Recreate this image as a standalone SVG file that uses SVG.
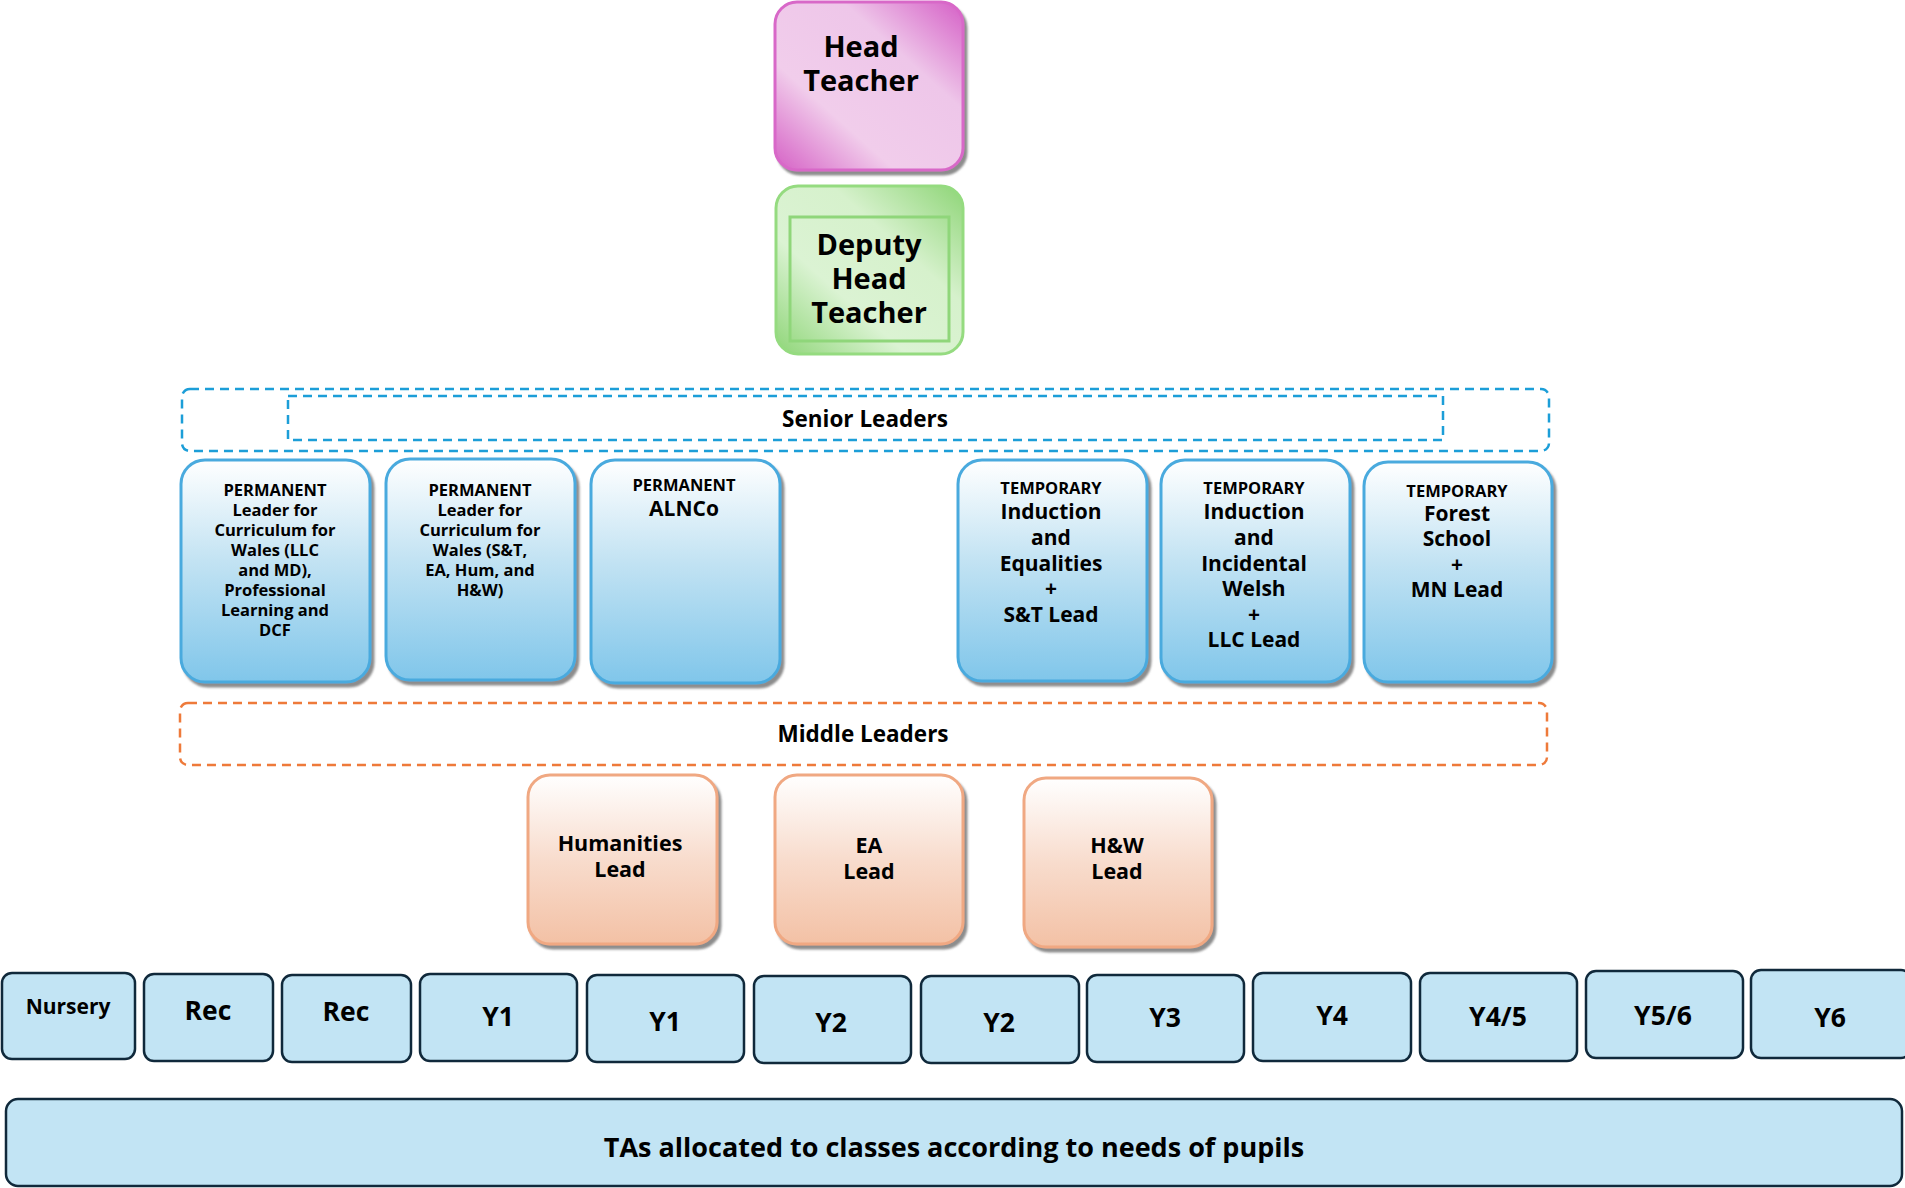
<svg xmlns="http://www.w3.org/2000/svg" width="1905" height="1188" viewBox="0 0 1905 1188">
  <defs>
    <linearGradient id="gHead" x1="1" y1="0" x2="0" y2="1">
      <stop offset="0" stop-color="#d55fc6"/>
      <stop offset="0.32" stop-color="#eec6e9"/>
      <stop offset="0.68" stop-color="#f1cdeb"/>
      <stop offset="1" stop-color="#d560c5"/>
    </linearGradient>
    <linearGradient id="gDeputy" x1="1" y1="0" x2="0" y2="1">
      <stop offset="0" stop-color="#8ed577"/>
      <stop offset="0.35" stop-color="#d6f1cc"/>
      <stop offset="0.65" stop-color="#dbf3d3"/>
      <stop offset="1" stop-color="#8ed577"/>
    </linearGradient>
    <linearGradient id="gSenior" x1="0" y1="0" x2="0" y2="1">
      <stop offset="0" stop-color="#ffffff"/>
      <stop offset="0.45" stop-color="#c3e3f3"/>
      <stop offset="1" stop-color="#80c6ea"/>
    </linearGradient>
    <linearGradient id="gMiddle" x1="0" y1="0" x2="0" y2="1">
      <stop offset="0" stop-color="#ffffff"/>
      <stop offset="0.5" stop-color="#f8dccd"/>
      <stop offset="1" stop-color="#f3c1a5"/>
    </linearGradient>
    <filter id="shadow" x="-10%" y="-10%" width="125%" height="125%">
      <feDropShadow dx="3" dy="4" stdDeviation="1.2" flood-color="#6f6f6f" flood-opacity="0.8"/>
    </filter>
  </defs>
  <style>
    text { font-family: "Open Sans", "Liberation Sans", sans-serif; font-weight: bold; fill: #000; text-anchor: middle; }
    .top { font-size: 29px; }
    .senior { fill: url(#gSenior); stroke: #4aaade; stroke-width: 3; filter: url(#shadow); }
    .middle { fill: url(#gMiddle); stroke: #f0a882; stroke-width: 3; filter: url(#shadow); }
    .cls { fill: #c2e4f4; stroke: #10293b; stroke-width: 2.5; }
    .sm { font-size: 16.5px; }
    .md { font-size: 21px; }
    .band { font-size: 22.5px; }
    .lbl { font-size: 21.5px; }
    .yr { font-size: 26.5px; }
    .dashB { fill: none; stroke: #1c9ed8; stroke-width: 2.5; stroke-dasharray: 9 6; }
    .dashO { fill: none; stroke: #ee7a3a; stroke-width: 2.5; stroke-dasharray: 9 6; }
  </style>

  <!-- top leadership -->
  <g id="head-teacher">
    <rect x="775" y="2" width="188" height="168" rx="22" fill="url(#gHead)" stroke="#d868c8" stroke-width="3" filter="url(#shadow)"/>
    <text class="top" x="861" y="57">Head</text>
    <text class="top" x="861" y="91">Teacher</text>
  </g>
  <g id="deputy-head-teacher">
    <rect x="776" y="186" width="187" height="168" rx="22" fill="url(#gDeputy)" stroke="#95db80" stroke-width="3"/>
    <rect x="790" y="217" width="159" height="124" fill="none" stroke="#8fd67a" stroke-width="3"/>
    <text class="top" x="869" y="255">Deputy</text>
    <text class="top" x="869" y="289">Head</text>
    <text class="top" x="869" y="323">Teacher</text>
  </g>

  <!-- senior leaders band -->
  <g id="senior-leaders">
    <rect class="dashB" x="182" y="389" width="1367" height="62" rx="8"/>
    <rect class="dashB" x="288" y="396" width="1155" height="44"/>
    <text class="band" x="865" y="427">Senior Leaders</text>
  </g>

  <g id="senior-1">
    <rect class="senior" x="181" y="460" width="189" height="222" rx="24"/>
    <text class="sm" x="275" y="496">PERMANENT</text>
    <text class="sm" x="275" y="516">Leader for</text>
    <text class="sm" x="275" y="536">Curriculum for</text>
    <text class="sm" x="275" y="556">Wales (LLC</text>
    <text class="sm" x="275" y="576">and MD),</text>
    <text class="sm" x="275" y="596">Professional</text>
    <text class="sm" x="275" y="616">Learning and</text>
    <text class="sm" x="275" y="636">DCF</text>
  </g>
  <g id="senior-2">
    <rect class="senior" x="386" y="459" width="189" height="221" rx="24"/>
    <text class="sm" x="480" y="496">PERMANENT</text>
    <text class="sm" x="480" y="516">Leader for</text>
    <text class="sm" x="480" y="536">Curriculum for</text>
    <text class="sm" x="480" y="556">Wales (S&amp;T,</text>
    <text class="sm" x="480" y="576">EA, Hum, and</text>
    <text class="sm" x="480" y="596">H&amp;W)</text>
  </g>
  <g id="senior-3">
    <rect class="senior" x="591" y="460" width="189" height="223" rx="24"/>
    <text class="sm" x="684" y="491">PERMANENT</text>
    <text class="md" x="684" y="516">ALNCo</text>
  </g>
  <g id="senior-4">
    <rect class="senior" x="958" y="460" width="189" height="221" rx="24"/>
    <text class="sm" x="1051" y="494">TEMPORARY</text>
    <text class="md" x="1051" y="519">Induction</text>
    <text class="md" x="1051" y="545">and</text>
    <text class="md" x="1051" y="571">Equalities</text>
    <text class="md" x="1051" y="596">+</text>
    <text class="md" x="1051" y="622">S&amp;T Lead</text>
  </g>
  <g id="senior-5">
    <rect class="senior" x="1161" y="460" width="189" height="222" rx="24"/>
    <text class="sm" x="1254" y="494">TEMPORARY</text>
    <text class="md" x="1254" y="519">Induction</text>
    <text class="md" x="1254" y="545">and</text>
    <text class="md" x="1254" y="571">Incidental</text>
    <text class="md" x="1254" y="596">Welsh</text>
    <text class="md" x="1254" y="622">+</text>
    <text class="md" x="1254" y="647">LLC Lead</text>
  </g>
  <g id="senior-6">
    <rect class="senior" x="1364" y="462" width="188" height="220" rx="24"/>
    <text class="sm" x="1457" y="497">TEMPORARY</text>
    <text class="md" x="1457" y="521">Forest</text>
    <text class="md" x="1457" y="546">School</text>
    <text class="md" x="1457" y="572">+</text>
    <text class="md" x="1457" y="597">MN Lead</text>
  </g>

  <!-- middle leaders band -->
  <g id="middle-leaders">
    <rect class="dashO" x="180" y="703" width="1367" height="62" rx="8"/>
    <text class="band" x="863" y="742">Middle Leaders</text>
  </g>
  <g id="middle-humanities">
    <rect class="middle" x="528" y="775" width="189" height="169" rx="22"/>
    <text class="lbl" x="620" y="851">Humanities</text>
    <text class="lbl" x="620" y="877">Lead</text>
  </g>
  <g id="middle-ea">
    <rect class="middle" x="775" y="775" width="188" height="169" rx="22"/>
    <text class="lbl" x="869" y="853">EA</text>
    <text class="lbl" x="869" y="879">Lead</text>
  </g>
  <g id="middle-hw">
    <rect class="middle" x="1024" y="778" width="188" height="169" rx="22"/>
    <text class="lbl" x="1117" y="853">H&amp;W</text>
    <text class="lbl" x="1117" y="879">Lead</text>
  </g>

  <!-- classes -->
  <g id="class-nursery">
    <rect class="cls" x="2" y="973" width="133" height="86" rx="10"/>
    <text style="font-size:21px" x="68" y="1014">Nursery</text>
  </g>
  <g id="class-rec-1">
    <rect class="cls" x="144" y="974" width="129" height="87" rx="10"/>
    <text class="yr" x="208" y="1020">Rec</text>
  </g>
  <g id="class-rec-2">
    <rect class="cls" x="282" y="975" width="129" height="87" rx="10"/>
    <text class="yr" x="346" y="1021">Rec</text>
  </g>
  <g id="class-y1-1">
    <rect class="cls" x="420" y="974" width="157" height="87" rx="10"/>
    <text class="yr" x="498" y="1026">Y1</text>
  </g>
  <g id="class-y1-2">
    <rect class="cls" x="587" y="975" width="157" height="87" rx="10"/>
    <text class="yr" x="665" y="1031">Y1</text>
  </g>
  <g id="class-y2-1">
    <rect class="cls" x="754" y="976" width="157" height="87" rx="10"/>
    <text class="yr" x="831" y="1032">Y2</text>
  </g>
  <g id="class-y2-2">
    <rect class="cls" x="921" y="976" width="158" height="87" rx="10"/>
    <text class="yr" x="999" y="1032">Y2</text>
  </g>
  <g id="class-y3">
    <rect class="cls" x="1087" y="975" width="157" height="87" rx="10"/>
    <text class="yr" x="1165" y="1027">Y3</text>
  </g>
  <g id="class-y4">
    <rect class="cls" x="1253" y="973" width="158" height="88" rx="10"/>
    <text class="yr" x="1332" y="1025">Y4</text>
  </g>
  <g id="class-y45">
    <rect class="cls" x="1420" y="973" width="157" height="88" rx="10"/>
    <text class="yr" x="1498" y="1026">Y4/5</text>
  </g>
  <g id="class-y56">
    <rect class="cls" x="1586" y="971" width="157" height="87" rx="10"/>
    <text class="yr" x="1663" y="1025">Y5/6</text>
  </g>
  <g id="class-y6">
    <rect class="cls" x="1751" y="970" width="160" height="88" rx="10"/>
    <text class="yr" x="1830" y="1027">Y6</text>
  </g>

  <!-- teaching assistants -->
  <g id="teaching-assistants">
    <rect class="cls" x="6" y="1099" width="1896" height="87" rx="12"/>
    <text style="font-size:27px" x="954" y="1157">TAs allocated to classes according to needs of pupils</text>
  </g>

  <!-- no connectors are drawn between the tiers -->
  <g id="connectors"></g>
</svg>
